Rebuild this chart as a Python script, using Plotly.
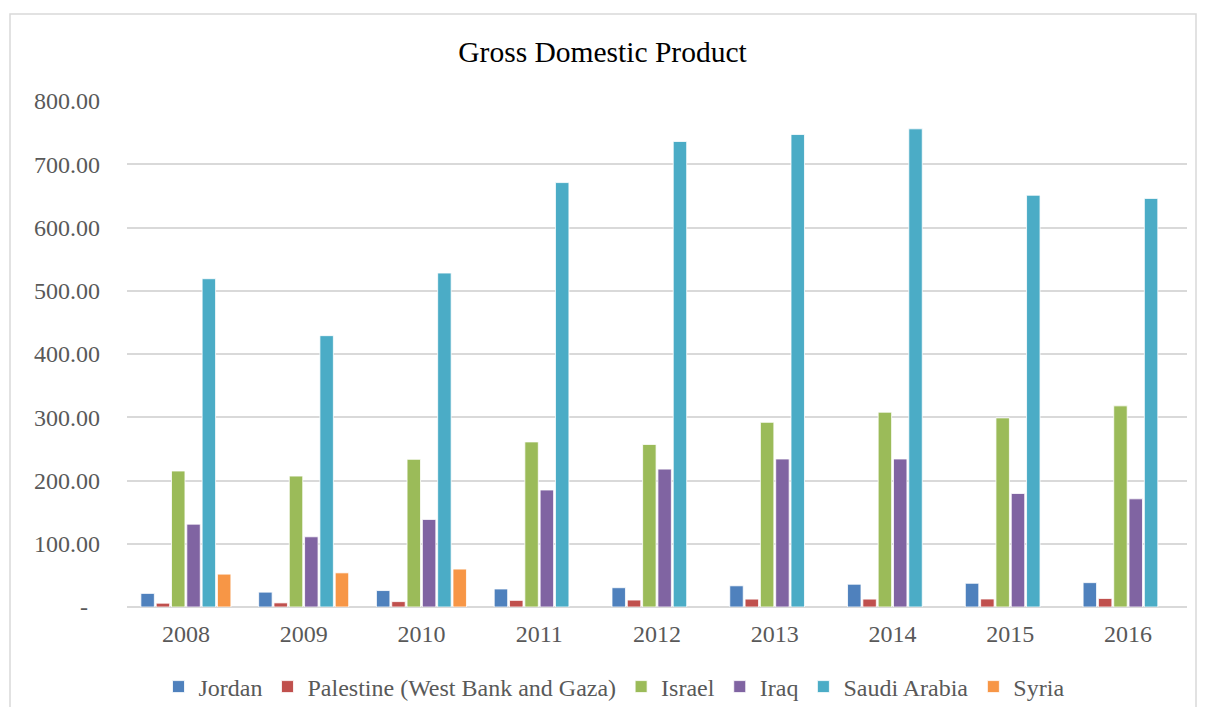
import plotly.graph_objects as go

years = ["2008", "2009", "2010", "2011", "2012", "2013", "2014", "2015", "2016"]
jordan = [21.5, 23.5, 26.0, 28.5, 30.5, 33.5, 36.0, 37.5, 38.5]
palestine = [6.0, 6.5, 8.5, 10.5, 11.0, 12.5, 12.5, 12.7, 13.5]
israel = [215, 207, 233.5, 261, 257, 292, 308, 299, 318]
iraq = [131, 111, 138.5, 185, 218, 234, 234, 179.5, 171]
saudi = [519, 429, 528, 671, 736, 747, 756, 651, 646]
syria = [52, 54, 60, None, None, None, None, None, None]

series_names = ["Jordan", "Palestine (West Bank and Gaza)", "Israel", "Iraq", "Saudi Arabia", "Syria"]
series_values = [jordan, palestine, israel, iraq, saudi, syria]
colors = ["#4F81BD", "#C0504D", "#9BBB59", "#8064A2", "#4BACC6", "#F79646"]

y_tickvals = [0, 100, 200, 300, 400, 500, 600, 700, 800]
y_ticktext = ["-\u00a0\u00a0", "100.00", "200.00", "300.00", "400.00", "500.00", "600.00", "700.00", "800.00"]

FONT = "Liberation Serif, Times New Roman, serif"
GRAY = "#595959"

fig = go.Figure()
for name, vals, col in zip(series_names, series_values, colors):
    fig.add_trace(go.Bar(
        x=years, y=vals, name=name,
        marker=dict(color=col, line=dict(color="rgba(255,255,255,0.8)", width=1)),
    ))

# page has an 8px body margin; figure occupies page px 8..1197 x 8..707
OFF = 8
W, H = 1189, 699
# plot area in page pixels: x 127..1187, y 101..607
L = 127 - OFF
R = (OFF + W) - 1187
T = 101 - OFF
B = (OFF + H) - 607
pw, ph = W - L - R, H - T - B

def px_x(x):
    return (x - OFF - L) / pw

def px_y(y):
    return (607 - y) / ph

fig.update_layout(
    width=W, height=H,
    margin=dict(l=L, r=R, t=T, b=B, autoexpand=False),
    paper_bgcolor="white", plot_bgcolor="white",
    barmode="group", bargap=0.22, bargroupgap=0.12,
    title=dict(text="Gross Domestic Product", x=0.5, xanchor="center",
               y=1 - (52 - OFF) / H, yanchor="middle",
               font=dict(family=FONT, size=29.5, color="#000000")),
    font=dict(family=FONT, size=24, color=GRAY),
    showlegend=True,
    legend=dict(orientation="h", x=px_x(614), xanchor="center",
                y=px_y(687), yanchor="middle",
                font=dict(family=FONT, size=24, color=GRAY),
                itemwidth=30, tracegroupgap=0),
    xaxis=dict(showgrid=False, showline=False, ticks="",
               ticklabelstandoff=10,
               tickfont=dict(family=FONT, size=24, color=GRAY)),
    yaxis=dict(range=[0, 800], tickvals=y_tickvals, ticktext=y_ticktext,
               showgrid=True, gridcolor="#D9D9D9", gridwidth=1.5,
               zeroline=True, zerolinecolor="#D9D9D9", zerolinewidth=1.5,
               showline=False, ticks="", ticklabelstandoff=26,
               tickfont=dict(family=FONT, size=24, color=GRAY)),
    shapes=[dict(type="rect", xref="paper", yref="paper",
                 x0=px_x(10), x1=px_x(1196), y0=px_y(720), y1=px_y(14),
                 line=dict(color="#D9D9D9", width=1.5), fillcolor="rgba(0,0,0,0)",
                 layer="below")],
)

fig.write_html("out.html")
